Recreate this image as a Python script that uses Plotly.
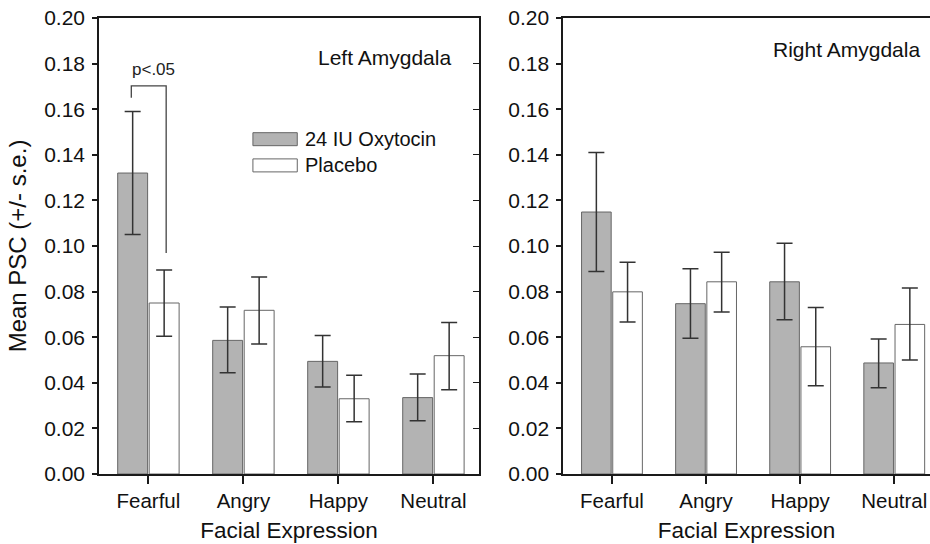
import plotly.graph_objects as go

categories = ["Fearful", "Angry", "Happy", "Neutral"]

# Left amygdala
left_oxy = [0.132, 0.0586, 0.0494, 0.0335]
left_oxy_hi = [0.027, 0.0146, 0.0113, 0.0104]
left_oxy_lo = [0.027, 0.0142, 0.0112, 0.0101]
left_pla = [0.075, 0.0718, 0.033, 0.0519]
left_pla_hi = [0.0145, 0.0146, 0.0103, 0.0146]
left_pla_lo = [0.0146, 0.0148, 0.0101, 0.0149]

# Right amygdala
right_oxy = [0.1149, 0.0747, 0.0843, 0.0487]
right_oxy_hi = [0.0261, 0.0153, 0.0169, 0.0105]
right_oxy_lo = [0.0261, 0.0152, 0.0167, 0.0109]
right_pla = [0.0799, 0.0843, 0.0558, 0.0656]
right_pla_hi = [0.013, 0.013, 0.0172, 0.016]
right_pla_lo = [0.0132, 0.0132, 0.0171, 0.0156]

series_names = ["24 IU Oxytocin", "Placebo"]
yticks = [0.00, 0.02, 0.04, 0.06, 0.08, 0.10, 0.12, 0.14, 0.16, 0.18, 0.20]

FONT = "Liberation Sans, Arial, sans-serif"
GRAY = "#b3b3b3"
EDGE = "#666666"
AX = "#1a1a1a"
ERR = "#333333"
TXT = "#111111"

fig = go.Figure()

def add_bars(vals, hi, lo, fill, name, xa, ya):
    fig.add_trace(go.Bar(
        x=list(range(len(categories))), y=vals, name=name,
        marker=dict(color=fill, line=dict(color=EDGE, width=1)),
        error_y=dict(type="data", array=hi, arrayminus=lo, color=ERR,
                     thickness=1.5, width=8),
        xaxis=xa, yaxis=ya, showlegend=False,
    ))

add_bars(left_oxy, left_oxy_hi, left_oxy_lo, GRAY, series_names[0], "x", "y")
add_bars(left_pla, left_pla_hi, left_pla_lo, "white", series_names[1], "x", "y")
add_bars(right_oxy, right_oxy_hi, right_oxy_lo, GRAY, series_names[0], "x2", "y2")
add_bars(right_pla, right_pla_hi, right_pla_lo, "white", series_names[1], "x2", "y2")

xcommon = dict(
    tickmode="array", tickvals=list(range(len(categories))), ticktext=categories,
    showline=True, linecolor=AX, linewidth=1.5, ticks="outside", ticklen=8,
    tickwidth=1.5, tickcolor=AX, showgrid=False, zeroline=False,
    tickfont=dict(family=FONT, size=20.5, color=TXT), ticklabeloverflow="allow",
    title=dict(text="Facial Expression", font=dict(family=FONT, size=22.5, color=TXT),
               standoff=11),
)
ycommon = dict(
    range=[0, 0.2], tickmode="array", tickvals=yticks, tickformat=".2f",
    showline=True, linecolor=AX, linewidth=1.5, ticks="outside", ticklen=5,
    tickwidth=1.5, tickcolor=AX, showgrid=False, zeroline=False,
    tickfont=dict(family=FONT, size=21, color=TXT), ticklabelstandoff=3,
    ticklabeloverflow="allow",
)

fig.update_layout(
    width=930, height=544,
    margin=dict(l=99, r=0, t=18, b=70),
    paper_bgcolor="white", plot_bgcolor="white",
    barmode="group", bargap=0.337, bargroupgap=0.05,
    xaxis=dict(domain=[0, 0.4573], range=[-0.52, 3.48], anchor="y", mirror=True, **xcommon),
    xaxis2=dict(domain=[0.5584, 1], range=[-0.52, 3.38], anchor="y2", mirror=True, **xcommon),
    yaxis=dict(domain=[0, 1], anchor="x",
               title=dict(text="Mean PSC (+/- s.e.)", font=dict(family=FONT, size=24, color=TXT),
                          standoff=11),
               **ycommon),
    yaxis2=dict(domain=[0, 1], anchor="x2", **ycommon),
    yaxis3=dict(overlaying="y", anchor="x", side="right", range=[0, 0.2],
                tickmode="array", tickvals=yticks, showticklabels=False,
                showline=True, linecolor=AX, linewidth=1.5, ticks="inside", ticklen=6,
                tickwidth=1.2, tickcolor=AX, showgrid=False, zeroline=False),
    showlegend=False,
)

# empty trace so the right-side mirror axis of the left panel is drawn
fig.add_trace(go.Scatter(x=[None], y=[None], xaxis="x", yaxis="y3", showlegend=False,
                         hoverinfo="skip"))

ann_font = dict(family=FONT, size=21, color=TXT)
fig.add_annotation(x=3.21, y=0.1825, xref="x", yref="y", text="Left Amygdala",
                   showarrow=False, xanchor="right", yanchor="middle", font=ann_font)
fig.add_annotation(x=3.29, y=0.1862, xref="x2", yref="y2", text="Right Amygdala",
                   showarrow=False, xanchor="right", yanchor="middle", font=ann_font)

# significance bracket
fig.add_shape(type="path", xref="x", yref="y",
              path="M -0.18,0.165 L -0.18,0.1702 L 0.187,0.1702 L 0.187,0.0969",
              line=dict(color="#444", width=1.3))
fig.add_annotation(x=0.05, y=0.1725, xref="x", yref="y", text="p<.05", showarrow=False,
                   xanchor="center", yanchor="bottom",
                   font=dict(family=FONT, size=17, color="#222"))

# legend drawn as boxes + text
legend_fills = [GRAY, "white"]
legend_y = [(0.1440, 0.1497), (0.1325, 0.1382)]
for fill, (y0, y1), name in zip(legend_fills, legend_y, series_names):
    fig.add_shape(type="rect", xref="x", yref="y", x0=1.10, x1=1.567, y0=y0, y1=y1,
                  fillcolor=fill, line=dict(color=EDGE, width=1))
    fig.add_annotation(x=1.625, y=(y0 + y1) / 2, xref="x", yref="y", text=name,
                       showarrow=False, xanchor="left", yanchor="middle",
                       font=dict(family=FONT, size=20, color=TXT))

fig.write_html(
    "out.html",
    config={"displayModeBar": False},
    post_script="document.body.style.margin='0';document.body.style.overflow='hidden';",
)
